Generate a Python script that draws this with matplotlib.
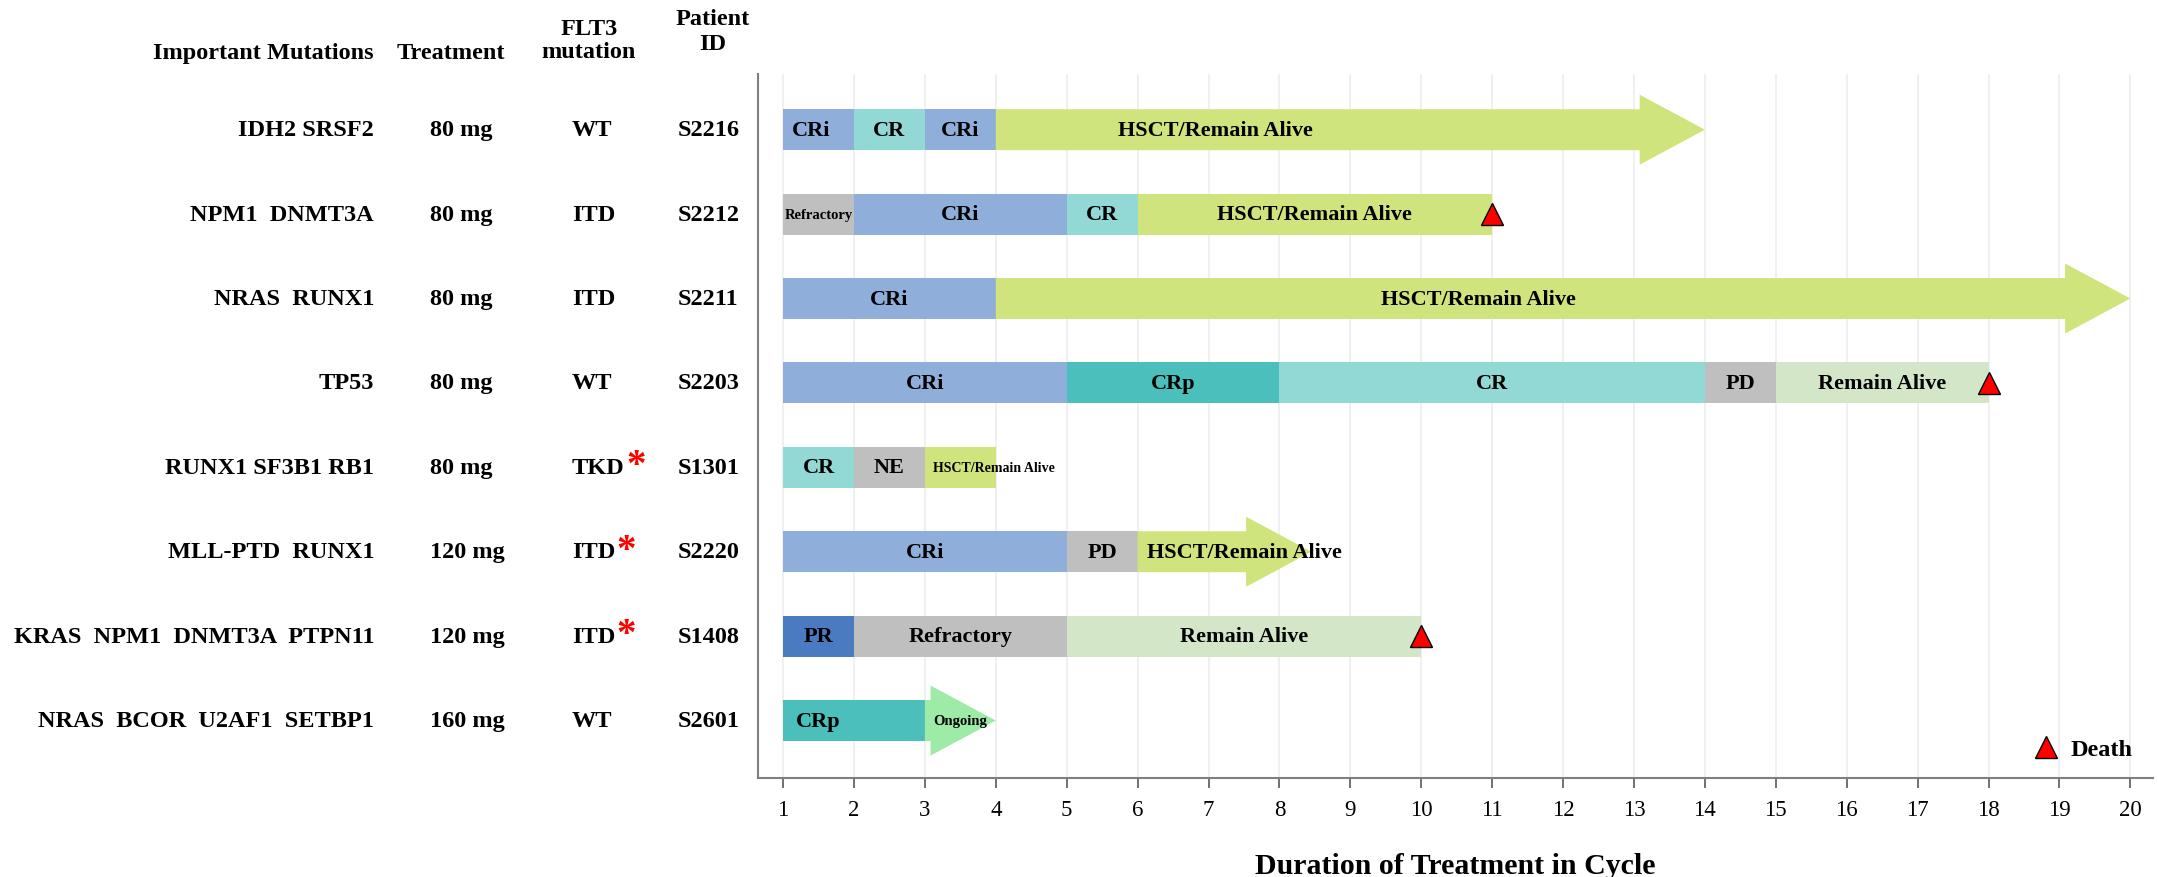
import matplotlib
matplotlib.use('Agg')
import matplotlib.pyplot as plt
from matplotlib.patches import FancyArrow
from matplotlib.lines import Line2D
from matplotlib.transforms import blended_transform_factory

plt.rcParams['font.family'] = ['Liberation Serif', 'DejaVu Serif']

# ---- data ----
patients = ['S2216', 'S2212', 'S2211', 'S2203', 'S1301', 'S2220', 'S1408', 'S2601']
mutations = ['IDH2 SRSF2', 'NPM1  DNMT3A', 'NRAS  RUNX1', 'TP53', 'RUNX1 SF3B1 RB1',
             'MLL-PTD  RUNX1', 'KRAS  NPM1  DNMT3A  PTPN11', 'NRAS  BCOR  U2AF1  SETBP1']
doses = ['80 mg', '80 mg', '80 mg', '80 mg', '80 mg', '120 mg', '120 mg', '160 mg']
flt3 = ['WT', 'ITD', 'ITD', 'WT', 'TKD', 'ITD', 'ITD', 'WT']
flt3_flag = [False, False, False, False, True, True, True, False]

states = [
    ['CRi', 'CR', 'CRi', 'HSCT/Remain Alive'],
    ['Refractory', 'CRi', 'CR', 'HSCT/Remain Alive'],
    ['CRi', 'HSCT/Remain Alive'],
    ['CRi', 'CRp', 'CR', 'PD', 'Remain Alive'],
    ['CR', 'NE', 'HSCT/Remain Alive'],
    ['CRi', 'PD', 'HSCT/Remain Alive'],
    ['PR', 'Refractory', 'Remain Alive'],
    ['CRp', 'Ongoing'],
]
cycles = [
    [1, 2, 3, 4, 14],
    [1, 2, 5, 6, 11],
    [1, 4, 20],
    [1, 5, 8, 14, 15, 18],
    [1, 2, 3, 4],
    [1, 5, 6, 8.45],
    [1, 2, 5, 10],
    [1, 3, 4],
]
continuing = [True, False, True, False, False, True, False, True]
death = [None, 11, None, 18, None, None, 10, None]

# ---- style ----
colors = {
    'CRi': '#8FAFDA', 'CR': '#92D9D5', 'CRp': '#4BBFBB', 'PR': '#4A7BC0',
    'Refractory': '#BFBFBF', 'NE': '#BFBFBF', 'PD': '#BFBFBF',
    'HSCT/Remain Alive': '#D0E47D', 'Remain Alive': '#D3E6C8', 'Ongoing': '#9EEBA8',
}
bar_h = 0.485
head_w = 0.83
head_l = 0.92
small_text = {(1, 0): 10.5, (4, 2): 10, (7, 1): 10.5}
label_x = {(0, 0): 1.4, (0, 3): 7.1, (2, 1): 10.8, (4, 2): 3.97, (5, 2): 7.5, (7, 0): 1.5}

fig = plt.figure(figsize=(21.58, 8.78), dpi=100)
ax = fig.add_axes([0.3513, 0.1128, 0.6464, 0.8018])

for i in range(len(patients)):
    b = cycles[i]
    for j, st in enumerate(states[i]):
        x0, x1 = b[j], b[j + 1]
        if continuing[i] and j == len(states[i]) - 1:
            ax.add_patch(FancyArrow(x0, i, x1 - x0, 0, width=bar_h, head_width=head_w,
                                    head_length=head_l, length_includes_head=True,
                                    color=colors[st], lw=0, zorder=2))
        else:
            ax.barh(i, x1 - x0, left=x0, height=bar_h, color=colors[st], zorder=2)
        ax.text(label_x.get((i, j), (x0 + x1) / 2), i, st, ha='center', va='center',
                fontweight='bold', fontsize=small_text.get((i, j), 16), zorder=4)
    if death[i] is not None:
        ax.plot(death[i], i, ls='none', marker='^', ms=16.5, mfc='red', mec='black',
                mew=1, zorder=5, clip_on=False)

ax.set_xlim(0.648, 20.32)
ax.set_ylim(7.68, -0.66)
ax.set_xticks(range(1, 21))
ax.set_yticks([])
ax.set_axisbelow(True)
ax.xaxis.grid(True, color='#EDEDED', lw=1.2)
for s in ['top', 'right']:
    ax.spines[s].set_visible(False)
for s in ['left', 'bottom']:
    ax.spines[s].set_color('#7F7F7F')
    ax.spines[s].set_linewidth(1.5)
ax.tick_params(axis='x', direction='out', length=7, width=1.2, color='#595959',
               labelsize=16.5, pad=8)
ax.set_xlabel('Duration of Treatment in Cycle', fontsize=21.5, fontweight='bold', labelpad=23)

ax.legend(handles=[Line2D([], [], ls='none', marker='^', ms=16.5, mfc='red',
                          mec='black', mew=1, label='Death')],
          loc='center right', bbox_to_anchor=(0.992, 0.041), frameon=False,
          prop={'weight': 'bold', 'size': 17.5}, handletextpad=0.2, handlelength=1.6,
          borderaxespad=0)

# ---- table on the left ----
tr = blended_transform_factory(fig.transFigure, ax.transData)
tsize = 17.5
for i in range(len(patients)):
    ax.text(374 / 2158, i, mutations[i], transform=tr, ha='right', va='center',
            fontsize=tsize, fontweight='bold', clip_on=False)
    ax.text(430 / 2158, i, doses[i], transform=tr, ha='left', va='center',
            fontsize=tsize, fontweight='bold', clip_on=False)
    t = ax.text(572 / 2158, i, flt3[i], transform=tr, ha='left', va='center',
                fontsize=tsize, fontweight='bold', clip_on=False)
    if flt3_flag[i]:
        ax.annotate('*', xy=(1, 0.5), xycoords=t, xytext=(1, 1), textcoords='offset points',
                    ha='left', va='center', color='red', fontsize=28, fontweight='bold')
    ax.text(678 / 2158, i, patients[i], transform=tr, ha='left', va='center',
            fontsize=tsize, fontweight='bold', clip_on=False)

fig.text(374 / 2158, 0.9396, 'Important Mutations', ha='right', va='center',
         fontsize=tsize, fontweight='bold')
fig.text(451 / 2158, 0.9396, 'Treatment', ha='center', va='center',
         fontsize=tsize, fontweight='bold')
fig.text(589 / 2158, 0.9536, 'FLT3\nmutation', ha='center', va='center',
         fontsize=tsize, fontweight='bold', linespacing=1.15)
fig.text(713 / 2158, 0.9636, 'Patient\nID', ha='center', va='center',
         fontsize=tsize, fontweight='bold', linespacing=1.2)

fig.savefig('out.png', dpi=100)
